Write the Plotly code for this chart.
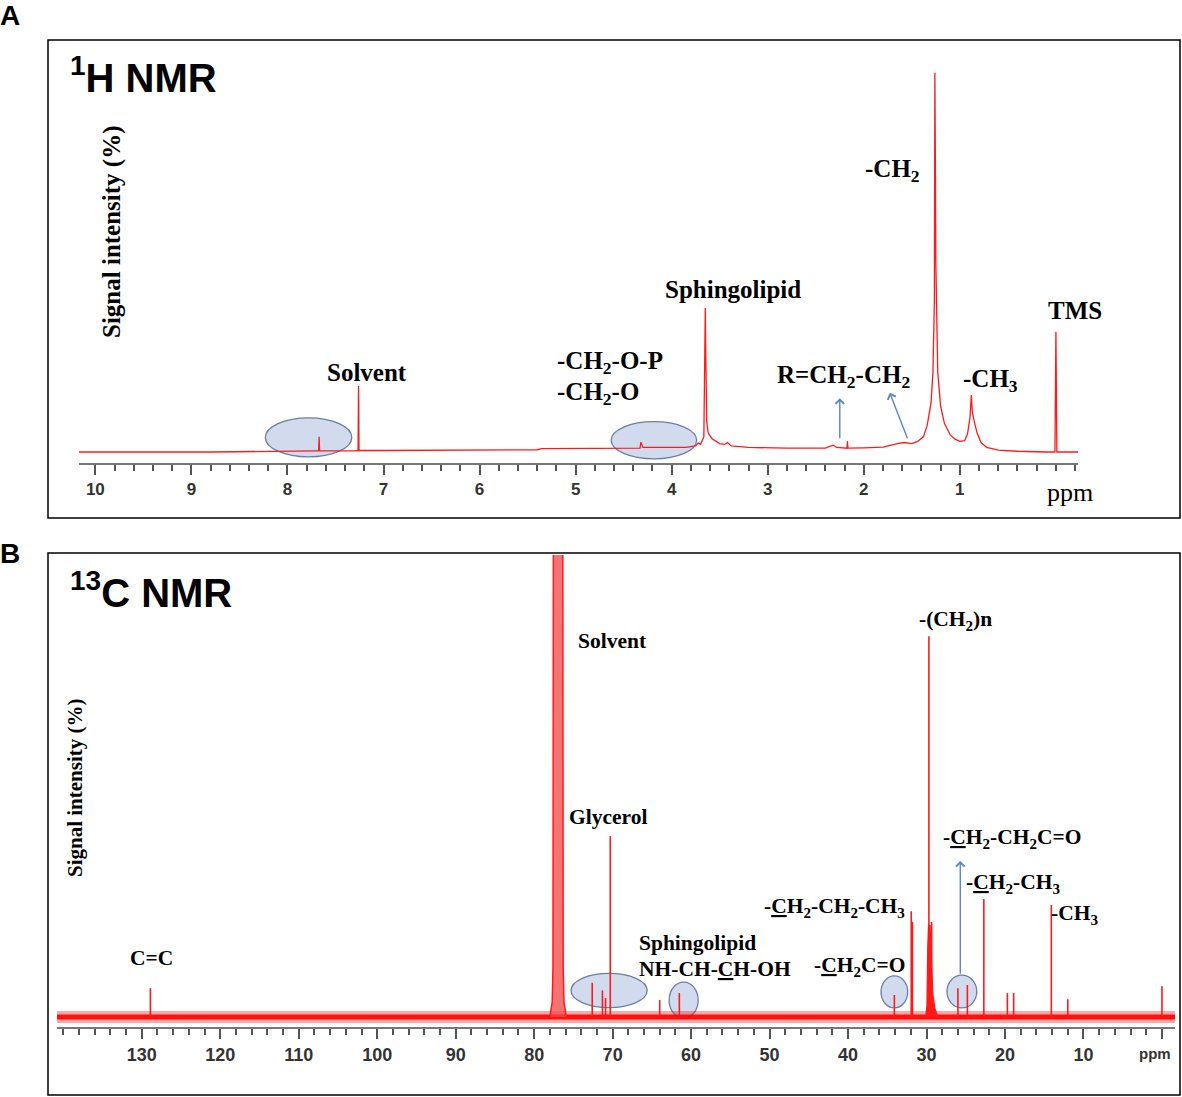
import plotly.graph_objects as go

W, H = 1182, 1097

# ---- 1H NMR trace (ppm, % of the -CH2 peak)
h_ppm = [10.17, 8.8, 7.70, 7.675, 7.67, 7.665, 7.30, 7.265, 7.26, 7.255, 7.0, 6.0,
         5.4, 5.35, 4.8, 4.33, 4.32, 4.30, 3.85, 3.75, 3.72, 3.70, 3.665, 3.655,
         3.65, 3.645, 3.635, 3.62, 3.58, 3.5, 3.45, 3.42, 3.38, 3.2, 2.8, 2.4,
         2.35, 2.32, 2.28, 2.2, 2.175, 2.17, 2.165, 2.0, 1.8, 1.65, 1.58, 1.50,
         1.44, 1.38, 1.34, 1.30, 1.28, 1.265, 1.26, 1.255, 1.25, 1.23, 1.20, 1.16,
         1.10, 1.05, 1.0, 0.95, 0.92, 0.895, 0.88, 0.87, 0.85, 0.82, 0.78, 0.72,
         0.6, 0.4, 0.1, 0.01, 0.0, -0.01, -0.23]
h_int = [0, 0, 0.3, 0.3, 4.0, 0.3, 0.3, 0.4, 17.4, 0.4, 0.4, 0.5,
         0.6, 0.9, 1.0, 1.0, 2.6, 1.2, 1.2, 1.6, 2.4, 2.0, 4.0, 26,
         38, 26, 8, 5, 3.5, 2.2, 2.0, 2.5, 1.6, 1.2, 1.0, 1.0,
         1.6, 1.8, 1.2, 1.0, 1.0, 2.9, 1.0, 1.1, 1.3, 2.2, 2.5, 2.2,
         2.8, 4.0, 7, 13, 21, 40, 100, 78, 50, 21, 12, 7.5,
         4.5, 3.4, 2.8, 3.0, 4.8, 9, 15, 10.5, 8, 5, 2.5, 1.2,
         0.5, 0.2, 0, 0, 31.7, 0, 0]
h_ticks = [10, 9, 8, 7, 6, 5, 4, 3, 2, 1]

# ---- 13C NMR: sharp lines (ppm, % of the -(CH2)n peak)
c_peak_ppm = [128.9, 72.6, 71.3, 70.9, 70.3, 64.0, 61.5, 34.1, 31.95, 31.8,
              29.7, 29.35, 26.0, 24.8, 22.7, 19.7, 18.9, 14.1, 12.0, 0.0]
c_peak_int = [7.6, 9.0, 7.0, 5.0, 47.5, 4.5, 6.3, 5.8, 27.8, 25,
              100, 25, 7.6, 8.4, 31, 6.3, 6.3, 29.4, 4.7, 8.1]
# solvent (CDCl3) band, runs off the top
c_solv_ppm = [78.0, 77.7, 77.6, 77.55, 76.35, 76.3, 76.2, 75.9]
c_solv_int = [0, 4, 13, 130, 130, 13, 4, 0]
# broad foot of the -(CH2)n signal
c_foot_ppm = [30.1, 29.95, 29.85, 29.75, 29.55, 29.35, 29.2, 28.9, 28.5]
c_foot_int = [0, 3, 18, 24, 24, 15, 6, 2, 0]
c_base_ppm = [140.8, -1.66]
c_base_int = [0, 0]
c_ticks = [130, 120, 110, 100, 90, 80, 70, 60, 50, 40, 30, 20, 10, 0]
c_ticktext = ['130', '120', '110', '100', '90', '80', '70', '60', '50', '40',
              '30', '20', '10', '']


def px(x):
    return x / W


def py(y):
    return 1 - y / H


RED = '#ff1a1a'
SERIF = 'Liberation Serif'
SANS = 'Liberation Sans'

fig = go.Figure()

fig.add_trace(go.Scatter(x=h_ppm, y=h_int, mode='lines', line=dict(color=RED, width=1.3),
                         xaxis='x', yaxis='y', hoverinfo='skip'))

# noisy 13C baseline: soft wide band + dense core
fig.add_trace(go.Scatter(x=c_base_ppm, y=c_base_int, mode='lines',
                         line=dict(color='rgba(255,0,0,0.35)', width=12),
                         xaxis='x2', yaxis='y2', hoverinfo='skip'))
fig.add_trace(go.Scatter(x=c_base_ppm, y=c_base_int, mode='lines',
                         line=dict(color='rgba(255,0,0,0.9)', width=5),
                         xaxis='x2', yaxis='y2', hoverinfo='skip'))
fig.add_trace(go.Scatter(x=c_solv_ppm, y=c_solv_int, mode='lines', fill='toself',
                         fillcolor='rgba(240,70,70,0.75)', line=dict(color=RED, width=1.5),
                         xaxis='x2', yaxis='y2', hoverinfo='skip'))
fig.add_trace(go.Scatter(x=c_foot_ppm, y=c_foot_int, mode='lines', fill='toself',
                         fillcolor=RED, line=dict(color=RED, width=1.2),
                         xaxis='x2', yaxis='y2', hoverinfo='skip'))
stick_x, stick_y = [], []
for p, h in zip(c_peak_ppm, c_peak_int):
    stick_x += [p, p, None]
    stick_y += [0, h, None]
fig.add_trace(go.Scatter(x=stick_x, y=stick_y, mode='lines', line=dict(color=RED, width=1.6),
                         xaxis='x2', yaxis='y2', hoverinfo='skip'))

common_x = dict(ticks='outside', ticklen=10, tickwidth=1.5, tickcolor='#555',
                showline=True, linecolor='#777', linewidth=2, showgrid=False,
                zeroline=False)

fig.update_layout(
    width=W, height=H, margin=dict(l=0, r=0, t=0, b=0),
    paper_bgcolor='white', plot_bgcolor='rgba(0,0,0,0)', showlegend=False,
    xaxis=dict(domain=[px(79), px(1078)], anchor='y', range=[10.17, -0.23],
               tickvals=h_ticks, **common_x,
               tickfont=dict(family=SANS, size=17, color='#333', weight='bold'),
               minor=dict(dtick=0.2, ticks='outside', ticklen=6, tickwidth=1.5,
                          tickcolor='#555', showgrid=False)),
    yaxis=dict(domain=[py(463), py(41)], anchor='x', range=[-2.9, 108.4], visible=False),
    xaxis2=dict(domain=[px(57), px(1175)], anchor='y2', range=[140.8, -1.66],
                tickvals=c_ticks, ticktext=c_ticktext, **common_x,
                tickfont=dict(family=SANS, size=18, color='#333', weight='bold'),
                minor=dict(dtick=2, ticks='outside', ticklen=6, tickwidth=1.5,
                           tickcolor='#555', showgrid=False)),
    yaxis2=dict(domain=[py(1027), py(555)], anchor='x2', range=[-2.6, 121.3], visible=False),
)

shapes = [
    dict(type='rect', xref='paper', yref='paper', x0=px(48), x1=px(1180), y0=py(518), y1=py(40),
         line=dict(color='black', width=1.5)),
    dict(type='rect', xref='paper', yref='paper', x0=px(48), x1=px(1180), y0=py(1095), y1=py(553),
         line=dict(color='black', width=1.5)),
]
ell_fill = 'rgba(185,200,228,0.65)'
ell_line = dict(color='#6b7fa6', width=1.3)
for x0, x1, y0, y1 in [(8.23, 7.33, -1.3, 9.0), (4.63, 3.74, -1.8, 8.0)]:
    shapes.append(dict(type='circle', xref='x', yref='y', x0=x0, x1=x1, y0=y0, y1=y1,
                       fillcolor=ell_fill, line=ell_line, layer='below'))
for x0, x1, y0, y1 in [(75.3, 65.6, 2.5, 11.5), (62.8, 59.1, -0.3, 9.2),
                       (35.8, 32.4, 2.4, 10.8), (27.4, 23.6, 2.4, 11.0)]:
    shapes.append(dict(type='circle', xref='x2', yref='y2', x0=x0, x1=x1, y0=y0, y1=y1,
                       fillcolor=ell_fill, line=ell_line, layer='below'))
fig.update_layout(shapes=shapes)


def label(text, x, y, size=25, family=SERIF, xanchor='center', bold=True, color='black', angle=0):
    fig.add_annotation(text='<b>%s</b>' % text if bold else text, x=px(x), y=py(y),
                       xref='paper', yref='paper', showarrow=False, xanchor=xanchor,
                       yanchor='middle', textangle=angle,
                       font=dict(family=family, size=size, color=color))


# panel A texts
label('A', 10, 16, size=28, family=SANS)
label('<sup>1</sup>H NMR', 68, 75, size=40, family=SANS, xanchor='left')
label('Signal intensity (%)', 112, 232, size=25, angle=-90)
label('Solvent', 367, 373)
label('-CH<sub>2</sub>-O-P', 555, 362, xanchor='left')
label('-CH<sub>2</sub>-O', 555, 394, xanchor='left')
label('Sphingolipid', 733, 290)
label('R=CH<sub>2</sub>-CH<sub>2</sub>', 843, 377)
label('-CH<sub>2</sub>', 893, 170)
label('-CH<sub>3</sub>', 990, 380)
label('TMS', 1075, 310)
label('ppm', 1070, 492, size=26, bold=False)

# panel B texts
label('B', 10, 553, size=28, family=SANS)
label('<sup>13</sup>C NMR', 68, 590, size=40, family=SANS, xanchor='left')
label('Signal intensity (%)', 75, 788, size=21, angle=-90)
label('Solvent', 612, 641, size=21.5)
label('Glycerol', 608, 817, size=21.5)
label('Sphingolipid', 637, 943, size=21.5, xanchor='left')
label('NH-CH-<u>C</u>H-OH', 637, 969, size=21.5, xanchor='left')
label('-<u>C</u>H<sub>2</sub>C=O', 859, 966, size=21.5)
label('-<u>C</u>H<sub>2</sub>-CH<sub>2</sub>-CH<sub>3</sub>', 834, 907, size=21.5)
label('-(CH<sub>2</sub>)n', 955, 620, size=21.5)
label('-<u>C</u>H<sub>2</sub>-CH<sub>2</sub>C=O', 1012, 838, size=21.5)
label('-<u>C</u>H<sub>2</sub>-CH<sub>3</sub>', 1013, 883, size=21.5)
label('-CH<sub>3</sub>', 1074, 914, size=21.5)
label('C=C', 151, 958, size=21.5)
label('ppm', 1155, 1053, size=15, family=SANS, color='#333')

# arrows
arrow = dict(showarrow=True, arrowhead=4, arrowsize=1.2, arrowwidth=1.4, arrowcolor='#5b86c5', text='')
fig.add_annotation(x=2.25, y=14.2, ax=2.25, ay=3.2, xref='x', yref='y', axref='x', ayref='y', **arrow)
fig.add_annotation(x=1.73, y=15.6, ax=1.54, ay=3.2, xref='x', yref='y', axref='x', ayref='y', **arrow)
fig.add_annotation(x=25.7, y=41, ax=25.7, ay=11, xref='x2', yref='y2', axref='x2', ayref='y2', **arrow)

fig.write_html("out.html", config={'displayModeBar': False},
               post_script="document.body.style.margin='0';")
